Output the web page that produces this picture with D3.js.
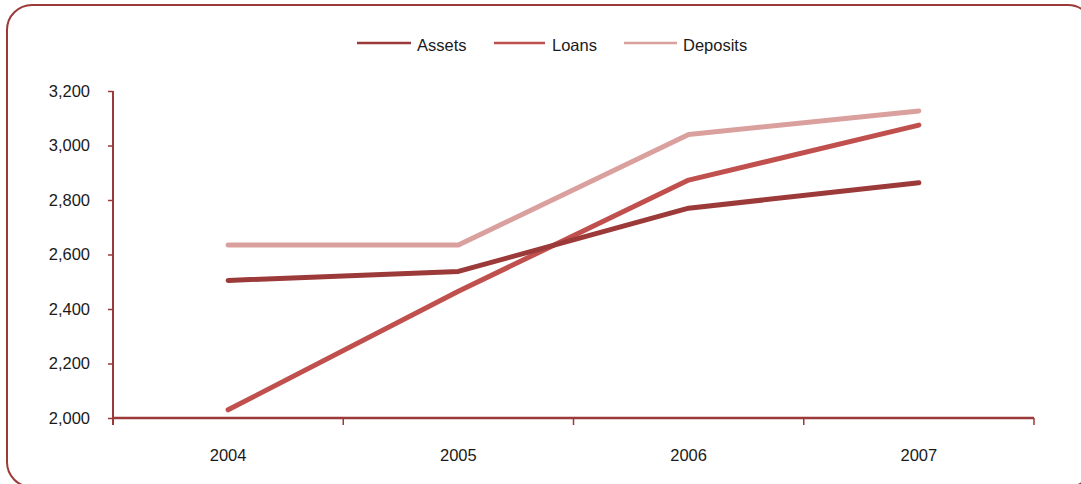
<!DOCTYPE html>
<html>
<head>
<meta charset="utf-8">
<script src="https://cdn.jsdelivr.net/npm/d3@7"></script>
<style>
  html, body { margin: 0; padding: 0; background: #ffffff; }
  svg { display: block; font-family: "Liberation Sans", Arial, sans-serif; }
</style>
</head>
<body>
<svg id="chart" width="1081" height="484"></svg>
<script>
// Balance sheet figures by year
const years = ["2004", "2005", "2006", "2007"];
const assets = [2505, 2538, 2770, 2863];
const loans = [2030, 2465, 2873, 3075];
const deposits = [2635, 2635, 3040, 3127];
const yTicks = [2000, 2200, 2400, 2600, 2800, 3000, 3200];

const seriesNames = ["Assets", "Loans", "Deposits"];
const seriesColors = ["#9b3a38", "#c0504d", "#d9a09e"];
const seriesValues = [assets, loans, deposits];

const frame = "#9b3a38";
const fontSize = "16.5px";
const svg = d3.select("#chart");

// rounded outer frame (runs past the right and bottom edges)
svg.append("rect")
  .attr("x", 7).attr("y", 5)
  .attr("width", 1086).attr("height", 482)
  .attr("rx", 25).attr("ry", 25)
  .attr("fill", "none")
  .attr("stroke", frame)
  .attr("stroke-width", 2);

const x = d3.scaleBand().domain(years).range([113, 1034]).padding(0);
const y = d3.scaleLinear().domain([2000, 3200]).range([418, 91]);

// y axis
const yAxis = d3.axisLeft(y).tickValues(yTicks).tickSize(5).tickPadding(18)
  .tickFormat(d3.format(","));
const gy = svg.append("g").attr("transform", "translate(113,0)").call(yAxis);
gy.select(".domain").remove();
gy.selectAll(".tick line").attr("stroke", frame).attr("stroke-width", 1.5);
gy.selectAll(".tick text").attr("fill", "#1a1a1a").style("font-size", fontSize)
  .style("font-family", "'Liberation Sans', Arial, sans-serif");
svg.append("line")
  .attr("x1", 113).attr("x2", 113)
  .attr("y1", y(3200)).attr("y2", y(2000) + 7)
  .attr("stroke", frame).attr("stroke-width", 2);

// x axis: ticks sit on the band boundaries, labels in the middle
const boundaries = years.map(d => x(d)).concat([x.range()[1]]);
const gx = svg.append("g");
gx.append("line")
  .attr("x1", 113).attr("x2", 1034)
  .attr("y1", y(2000)).attr("y2", y(2000))
  .attr("stroke", frame).attr("stroke-width", 2.5);
gx.selectAll("line.tick").data(boundaries).join("line")
  .attr("class", "tick")
  .attr("x1", d => d).attr("x2", d => d)
  .attr("y1", y(2000)).attr("y2", y(2000) + 7)
  .attr("stroke", frame).attr("stroke-width", 1.5);
gx.selectAll("text").data(years).join("text")
  .attr("x", d => x(d) + x.bandwidth() / 2)
  .attr("y", 461)
  .attr("text-anchor", "middle")
  .attr("fill", "#1a1a1a")
  .style("font-size", fontSize)
  .text(d => d);

// series lines
const line = d3.line()
  .x((d, i) => x(years[i]) + x.bandwidth() / 2)
  .y(d => y(d));

[2, 1, 0].forEach(k => {
  svg.append("path")
    .datum(seriesValues[k])
    .attr("d", line)
    .attr("fill", "none")
    .attr("stroke", seriesColors[k])
    .attr("stroke-width", 5)
    .attr("stroke-linecap", "round")
    .attr("stroke-linejoin", "round");
});

// legend
const legendItems = [
  { x1: 357, x2: 411, tx: 417 },
  { x1: 494, x2: 545, tx: 552 },
  { x1: 624, x2: 677, tx: 683 }
];
const legend = svg.append("g");
legendItems.forEach((it, k) => {
  legend.append("line")
    .attr("x1", it.x1).attr("x2", it.x2)
    .attr("y1", 43).attr("y2", 43)
    .attr("stroke", seriesColors[k]).attr("stroke-width", 2.5);
  legend.append("text")
    .attr("x", it.tx).attr("y", 51)
    .attr("fill", "#1a1a1a")
    .style("font-size", fontSize)
    .text(seriesNames[k]);
});
</script>
</body>
</html>
